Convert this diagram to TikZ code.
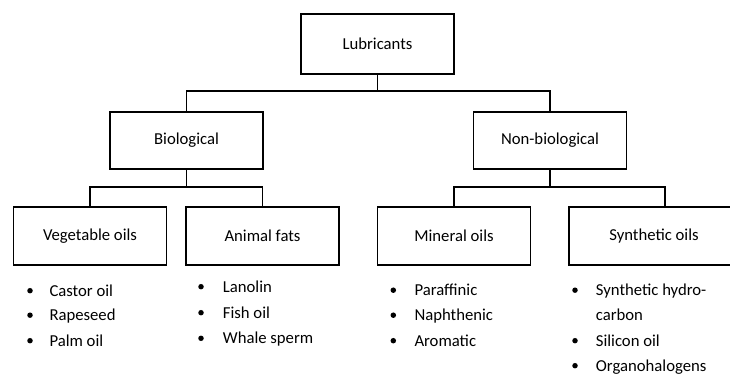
\documentclass[tikz,border=0pt]{standalone}
\usepackage{fontspec}
\setmainfont{Carlito}
\begin{document}
\begin{tikzpicture}[x=1pt,y=-1pt,
  box/.style={draw,line width=1.8pt,minimum width=153pt,inner sep=0pt,
    font=\fontsize{16.7}{20}\selectfont},
  conn/.style={line width=1.8pt,line join=miter},
  item/.style={anchor=base west,inner sep=0pt,font=\fontsize{16.7}{20}\selectfont},
  dot/.style={circle,fill,inner sep=0pt,minimum size=5.5pt}]
\useasboundingbox (0,0) rectangle (730,374);
\clip (0,0) rectangle (730,374);
% boxes
\node[box,minimum height=60pt] (lub) at (377.5,44) {Lubricants};
\node[box,minimum height=57pt] (bio) at (186.5,140.5) {Biological};
\node[box,minimum height=57pt] (nonbio) at (550,140.5) {Non-biological};
\node[box,minimum height=58pt] (veg) at (90,236) {Vegetable oils};
\node[box,minimum height=58pt] (ani) at (262.5,236) {Animal fats};
\node[box,minimum height=58pt] (mino) at (454,236) {Mineral oils};
\node[box,minimum height=58pt,minimum width=170pt] (syn) at (654,236) {Synthetic oils};
% junctions
\coordinate (j1) at (377.5,91);
\coordinate (j2) at (186.5,187);
\coordinate (j3) at (550,187);
\coordinate (synstem) at (665,207);
% connectors
\draw[conn] (lub.south) -- (j1);
\draw[conn] (bio.north) |- (j1) -| (nonbio.north);
\draw[conn] (bio.south) -- (j2);
\draw[conn] (veg.north) |- (j2) -| (ani.north);
\draw[conn] (nonbio.south) -- (j3);
\draw[conn] (mino.north) |- (j3) -| (synstem);
% vegetable oils
\node[dot] (v1d) at (30,290.7) {};
\node[item] (v1) at (49.3,296) {Castor oil};
\node[dot] (v2d) at (30,315.2) {};
\node[item] (v2) at (49.3,320.5) {Rapeseed};
\node[dot] (v3d) at (30,340.7) {};
\node[item] (v3) at (49.3,346) {Palm oil};
% animal fats
\node[dot] (a1d) at (201,286.7) {};
\node[item] (a1) at (222.7,292) {Lanolin};
\node[dot] (a2d) at (201,312.7) {};
\node[item] (a2) at (222.7,318) {Fish oil};
\node[dot] (a3d) at (201,338.3) {};
\node[item] (a3) at (222.7,343.6) {Whale sperm};
% mineral oils
\node[dot] (m1d) at (393.3,290.2) {};
\node[item] (m1) at (414.3,295.5) {Paraffinic};
\node[dot] (m2d) at (393.3,315.2) {};
\node[item] (m2) at (414.3,320.5) {Naphthenic};
\node[dot] (m3d) at (393.3,340.7) {};
\node[item] (m3) at (414.3,346) {Aromatic};
% synthetic oils
\node[dot] (s1d) at (575,290.2) {};
\node[item] (s1) at (595.7,295.5) {Synthetic hydro-};
\node[item] (s1b) at (595.7,320.5) {carbon};
\node[dot] (s2d) at (575,340.7) {};
\node[item] (s2) at (595.7,346) {Silicon oil};
\node[dot] (s3d) at (575,365.7) {};
\node[item] (s3) at (595.7,371) {Organohalogens};
\end{tikzpicture}
\end{document}
